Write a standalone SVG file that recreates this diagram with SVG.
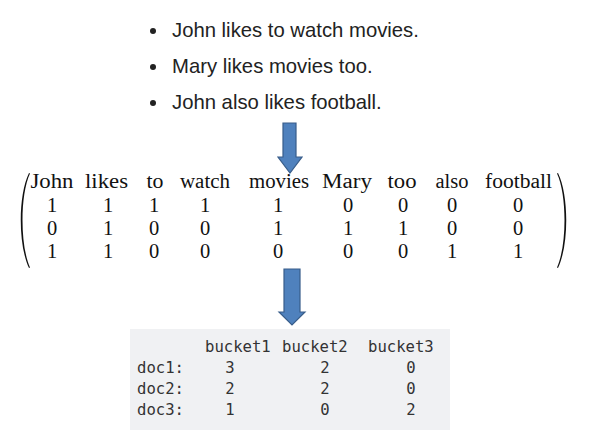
<svg xmlns="http://www.w3.org/2000/svg" width="589" height="446" viewBox="0 0 589 446">
<style>
.bul{font-family:"Liberation Sans",Arial,sans-serif;font-size:20.3px;fill:#222}
.mx{font-family:"Liberation Serif","Times New Roman",serif;font-size:20.5px;fill:#111;text-anchor:middle}
.mono{font-family:"DejaVu Sans Mono","Liberation Mono",monospace;font-size:15.6px;fill:#333}
.mc{text-anchor:middle}
.arr{fill:#4f81bd;stroke:#385d8a;stroke-width:1.2}
</style>
<rect width="589" height="446" fill="#fff"/>
<g id="sentences">
<circle cx="153" cy="31" r="3" fill="#222"/>
<text class="bul" x="172" y="37">John likes to watch movies.</text>
<circle cx="153" cy="67" r="3" fill="#222"/>
<text class="bul" x="172" y="73">Mary likes movies too.</text>
<circle cx="153" cy="103" r="3" fill="#222"/>
<text class="bul" x="172" y="109">John also likes football.</text>
</g>
<g id="matrix">
<path d="M29,173 C18,195 18,245 29,268 L30,267.5 C20,245 20,195 30,173.5 Z" fill="#111"/>
<path d="M558,173 C569,195 569,245 558,268 L557,267.5 C567,245 567,195 557,173.5 Z" fill="#111"/>
<g class="mx">
<text x="52" y="188" textLength="43" lengthAdjust="spacingAndGlyphs">John</text>
<text x="106.5" y="188" textLength="43" lengthAdjust="spacingAndGlyphs">likes</text>
<text x="155" y="188" textLength="17" lengthAdjust="spacingAndGlyphs">to</text>
<text x="205" y="188" textLength="50" lengthAdjust="spacingAndGlyphs">watch</text>
<text x="279" y="188" textLength="60" lengthAdjust="spacingAndGlyphs">movies</text>
<text x="347" y="188" textLength="50" lengthAdjust="spacingAndGlyphs">Mary</text>
<text x="402" y="188" textLength="29" lengthAdjust="spacingAndGlyphs">too</text>
<text x="452" y="188" textLength="33" lengthAdjust="spacingAndGlyphs">also</text>
<text x="518.5" y="188" textLength="67" lengthAdjust="spacingAndGlyphs">football</text>
</g>
<text class="mx" y="212"><tspan x="52">1</tspan><tspan x="108">1</tspan><tspan x="154">1</tspan><tspan x="205">1</tspan><tspan x="278">1</tspan><tspan x="348">0</tspan><tspan x="403">0</tspan><tspan x="452">0</tspan><tspan x="518">0</tspan></text>
<text class="mx" y="235"><tspan x="52">0</tspan><tspan x="108">1</tspan><tspan x="154">0</tspan><tspan x="205">0</tspan><tspan x="278">1</tspan><tspan x="348">1</tspan><tspan x="403">1</tspan><tspan x="452">0</tspan><tspan x="518">0</tspan></text>
<text class="mx" y="258"><tspan x="52">1</tspan><tspan x="108">1</tspan><tspan x="154">0</tspan><tspan x="205">0</tspan><tspan x="278">0</tspan><tspan x="348">0</tspan><tspan x="403">0</tspan><tspan x="452">1</tspan><tspan x="518">1</tspan></text>
</g>
<g id="buckets">
<rect x="130" y="329" width="320" height="101" fill="#f0f1f3"/>
<text class="mono" y="352"><tspan x="205">bucket1</tspan><tspan x="282">bucket2</tspan><tspan x="368">bucket3</tspan></text>
<text class="mono" x="137" y="373">doc1:</text>
<text class="mono" x="137" y="394">doc2:</text>
<text class="mono" x="137" y="415">doc3:</text>
<text class="mono mc" y="373"><tspan x="230">3</tspan><tspan x="325">2</tspan><tspan x="411">0</tspan></text>
<text class="mono mc" y="394"><tspan x="230">2</tspan><tspan x="325">2</tspan><tspan x="411">0</tspan></text>
<text class="mono mc" y="415"><tspan x="230">1</tspan><tspan x="325">0</tspan><tspan x="411">2</tspan></text>
</g>
<g id="connectors">
<path class="arr" d="M283,123 H296 V157 H302 L290,173 L278,157 H283 Z"/>
<path class="arr" d="M284,269 H300 V312 H305 L292,325 L279,312 H284 Z"/>
</g>
</svg>
